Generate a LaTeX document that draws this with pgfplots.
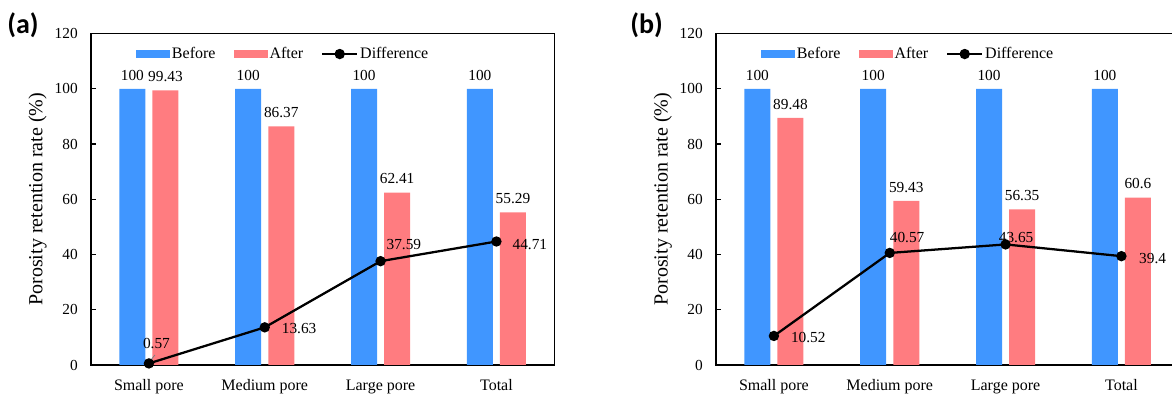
\documentclass[border=0pt]{standalone}
\usepackage{fontspec}
\setmainfont{Liberation Serif}
\newfontfamily\chartfont{Liberation Serif}
\newfontfamily\panelfont{Carlito}
\usepackage{pgfplots}
\pgfplotsset{compat=1.18}

\definecolor{barblue}{RGB}{64,150,255}
\definecolor{barred}{RGB}{255,124,128}

\newcommand\txtsize[1]{\fontsize{#1}{#1}\selectfont\chartfont}

\pgfplotsset{
  poreaxis/.style={
    scale only axis, width=347.5pt, height=248.6pt,
    anchor=south west,
    xmin=-0.5, xmax=3.5, ymin=0, ymax=120,
    xtick={0,1,2,3},
    xticklabels={Small pore, Medium pore, Large pore, Total},
    ytick={0,20,...,120},
    axis line style={line width=1.1pt},
    tick pos=left,
    xtick style={draw=none},
    ytick style={line width=0.8pt, black},
    major tick length=3.75pt,
    tick align=inside,
    /pgf/number format/assume math mode=true,
    tick label style={font=\txtsize{11.5}},
    yticklabel style={anchor=east, inner sep=0pt, xshift=-9.75pt},
    xticklabel style={anchor=base, inner sep=0pt, yshift=-19.5pt, font=\txtsize{12}},
    ylabel={Porosity retention rate (\%)},
    every axis y label/.style={at={(axis description cs:-0.115,0.5)}, rotate=90, anchor=center, font=\txtsize{15}},
    legend columns=3,
    legend cell align=left,
    legend style={draw=none, fill=none, inner sep=0pt,
      at={(axis description cs:0.0965,0.965)}, anchor=north west,
      font=\txtsize{12},
      nodes={inner sep=1.5pt},
      /tikz/every even column/.append style={column sep=12pt}},
  },
  barbefore/.style={ybar, bar width=19.5pt, bar shift=-12.4pt, fill=barblue, draw=none,
    nodes near coords, point meta=explicit symbolic,
    every node near coord/.append style={anchor=base, inner sep=0pt, xshift=-12.4pt, yshift=6.5pt, black, font=\txtsize{11.5}},
    legend image code/.code={\fill[barblue] (0pt,-3pt) rectangle (25.5pt,3pt);}},
  barafter/.style={ybar, bar width=19.5pt, bar shift=12.4pt, fill=barred, draw=none,
    nodes near coords, point meta=explicit symbolic,
    every node near coord/.append style={anchor=base, inner sep=0pt, xshift=12.4pt, yshift=6.5pt, black, font=\txtsize{11.5}},
    legend image code/.code={\fill[barred] (0pt,-3pt) rectangle (25.5pt,3pt);}},
  diffline/.style={black, line width=1.7pt, mark=*, mark size=3pt, mark options={fill=black, solid},
    nodes near coords, point meta=explicit symbolic,
    every node near coord/.append style={inner sep=0pt, black, font=\txtsize{11.5}},
    legend image code/.code={\draw[black, line width=1.7pt] (0pt,0pt) -- (26pt,0pt); \fill[black] (13pt,0pt) circle (3pt);}},
}

\begin{document}
\begin{tikzpicture}[font=\chartfont]

% panel letters
\node[anchor=west, inner sep=0pt, font={\fontsize{21}{24}\selectfont\panelfont\bfseries}] at (5.25pt,278.25pt) {(a)};
\node[anchor=west, inner sep=0pt, font={\fontsize{21}{24}\selectfont\panelfont\bfseries}] at (472.5pt,278.25pt) {(b)};

% panel (a)
\begin{axis}[poreaxis, at={(68.25pt,23.25pt)}]
  \addplot[barbefore] coordinates {(0,100)[100] (1,100)[100] (2,100)[100] (3,100)[100]};
  \addlegendentry{Before}
  \addplot[barafter] coordinates {(0,99.43)[99.43] (1,86.37)[86.37] (2,62.41)[62.41] (3,55.29)[55.29]};
  \addlegendentry{After}
  \draw[gray, line width=0.6pt] (axis cs:0,0) ++(0.5pt,2.5pt) -- ++(4pt,5pt);
  \addplot[diffline,
    coordinate style/.condition={\coordindex==0}{anchor=base west, xshift=-5.25pt, yshift=11.25pt},
    coordinate style/.condition={\coordindex==1}{anchor=west, xshift=12pt, yshift=-0.75pt},
    coordinate style/.condition={\coordindex==2}{anchor=base west, xshift=3.7pt, yshift=8.8pt},
    coordinate style/.condition={\coordindex==3}{anchor=west, xshift=11.3pt, yshift=-2pt},
  ] coordinates {(0,0.57)[0.57] (1,13.63)[13.63] (2,37.59)[37.59] (3,44.71)[44.71]};
  \addlegendentry{Difference}
\end{axis}

% panel (b)
\begin{axis}[poreaxis, at={(537pt,23.25pt)}]
  \addplot[barbefore] coordinates {(0,100)[100] (1,100)[100] (2,100)[100] (3,100)[100]};
  \addlegendentry{Before}
  \addplot[barafter] coordinates {(0,89.48)[89.48] (1,59.43)[59.43] (2,56.35)[56.35] (3,60.6)[60.6]};
  \addlegendentry{After}
  \addplot[diffline,
    coordinate style/.condition={\coordindex==0}{anchor=west, xshift=12pt, yshift=-1.3pt},
    coordinate style/.condition={\coordindex==1}{anchor=base west, xshift=-0.75pt, yshift=7.6pt},
    coordinate style/.condition={\coordindex==2}{anchor=base, xshift=7.9pt, yshift=1.2pt},
    coordinate style/.condition={\coordindex==3}{anchor=west, xshift=12.5pt, yshift=-1.5pt},
  ] coordinates {(0,10.52)[10.52] (1,40.57)[40.57] (2,43.65)[43.65] (3,39.4)[39.4]};
  \addlegendentry{Difference}
\end{axis}

\pgfresetboundingbox
\useasboundingbox (0,0) rectangle (879pt,297pt);
\end{tikzpicture}
\end{document}
